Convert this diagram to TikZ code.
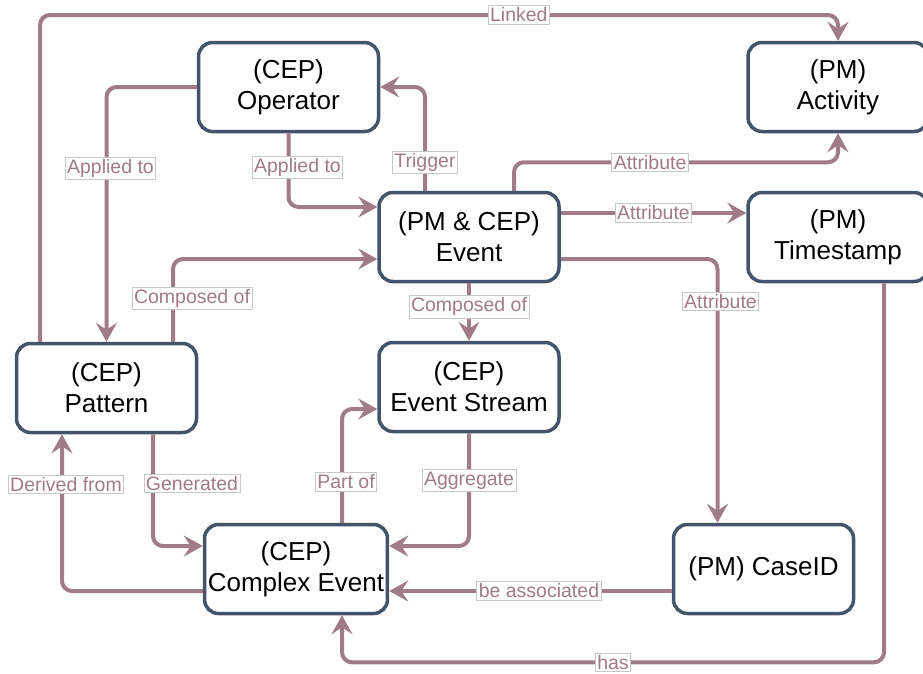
\documentclass[tikz,border=0pt]{standalone}
\usepackage{fontspec}
\setmainfont{Liberation Sans}
\usetikzlibrary{arrows.meta}

\definecolor{boxblue}{RGB}{68,84,106}
\definecolor{linkpink}{RGB}{160,124,134}
\definecolor{tagborder}{RGB}{200,200,200}

\tikzset{
  entity/.style = {draw = boxblue, line width = 3.5pt, rounded corners = 14pt, fill = white,
    minimum width = 180pt, minimum height = 89pt, align = center, font = \fontsize{26}{31}\selectfont},
  rel/.style = {draw = linkpink, line width = 4pt, rounded corners = 10pt,
    -{Stealth[length = 19pt, width = 21pt, inset = 7pt]}},
  tag/.style = {fill = white, draw = tagborder, line width = 0.8pt, sharp corners, text = linkpink,
    inner sep = 2pt, font = \fontsize{19.5}{21}\selectfont},
}

\begin{document}
\begin{tikzpicture}[x = 1pt, y = -1pt]
    \useasboundingbox (0,0) rectangle (923,673);

    % boxes
    \node[entity] (op) at (288.5,87) {(CEP)\\Operator};
    \node[entity] (act) at (838,87) {(PM)\\Activity};
    \node[entity] (ev) at (469,237) {(PM \& CEP)\\Event};
    \node[entity] (ts) at (838,237) {(PM)\\Timestamp};
    \node[entity] (pat) at (106.5,388) {(CEP)\\Pattern};
    \node[entity] (es) at (469,387) {(CEP)\\Event Stream};
    \node[entity] (ce) at (296,569) {(CEP)\\Complex Event};
    \node[entity] (cid) at (763.5,569) {(PM) CaseID};

    % relations
    \draw[rel] (pat.north -| 40,0) -- (40,15) -- node[tag, pos = 0.6] {Linked} (act.north |- 0,15) -- (act.north);
    \draw[rel] (op.west) -| node[tag, pos = 0.66, xshift = 4pt] {Applied to} (pat.north);
    \draw[rel] (op.south) |- node[tag, pos = 0.23, xshift = 9pt] {Applied to} ([yshift = 30pt]ev.west);
    \draw[rel] ([xshift = -44pt]ev.north) |- node[tag, pos = 0.135] {Trigger} (op.east);
    \draw[rel] ([xshift = 66.5pt]pat.north) |- node[tag, pos = 0.26, xshift = 19pt] {Composed of} ([yshift = -22pt]ev.west);
    \draw[rel] ([xshift = 45pt]ev.north) |- node[tag, pos = 0.71] {Attribute} ([yshift = -29pt]act.south) -- (act.south);
    \draw[rel] ([yshift = 24pt]ev.east) -- node[tag] {Attribute} ([yshift = 24pt]ts.west);
    \draw[rel] ([yshift = -22pt]ev.east) -| node[tag, pos = 0.58, xshift = 3pt] {Attribute} ([xshift = -46pt]cid.north);
    \draw[rel] (ev.south) -- node[tag, pos = 0.41] {Composed of} (es.north);
    \draw[rel] ([yshift = -22pt]ce.west) -| node[tag, pos = 0.84, xshift = 4pt] {Derived from} ([xshift = -44.5pt]pat.south);
    \draw[rel] ([xshift = 46.5pt]pat.south) |- node[tag, pos = 0.22, xshift = 39pt] {Generated} ([yshift = 23pt]ce.west);
    \draw[rel] ([xshift = 46pt]ce.north) |- node[tag, pos = 0.18, xshift = 4pt] {Part of} ([yshift = -22pt]es.west);
    \draw[rel] (es.south) |- node[tag, pos = 0.21] {Aggregate} ([yshift = 23pt]ce.east);
    \draw[rel] ([yshift = -22pt]cid.west) -- node[tag, pos = 0.47] {be associated} ([yshift = -22pt]ce.east);
    \draw[rel] ([xshift = 46pt]ts.south) |- node[tag, pos = 0.75] {has} ([xshift = 46pt, yshift = -47pt]ce.south) -- ([xshift = 46pt]ce.south);
    %\draw[rel] (ts.south) -- (ce.south);
\end{tikzpicture}
\end{document}
